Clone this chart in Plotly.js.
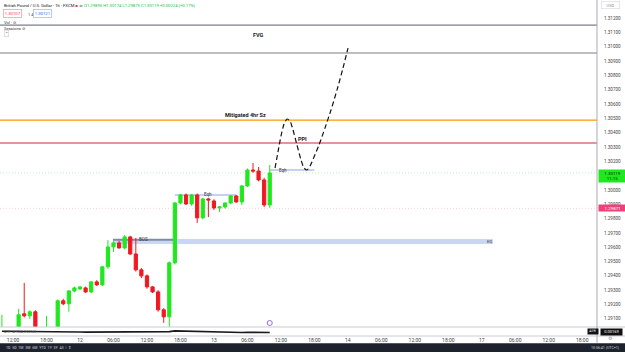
<!DOCTYPE html>
<html><head><meta charset="utf-8">
<script src="https://cdn.plot.ly/plotly-3.0.1.min.js"></script>
<style>html,body{margin:0;padding:0;background:#fff}#chart{width:625px;height:352px}</style>
</head><body><div id="chart"></div>
<script>
// ---- data (bar index = hours since 11th 00:00) ----
const hours  = [10,11,12,13,14,15,16,17,18,19,20,21,22,23,24,25,26,27,28,29,30,31,32,33,34,35,36,37,38,39,40,41,42,43,44,45,46,47,48,49,50,51,52,53,54,55,56,57,58];
const opens  = [1.29020,1.29035,1.28980,1.29010,1.29135,1.29121,1.29149,1.29030,1.28990,1.29020,1.29000,1.29226,1.29205,1.29295,1.29309,1.29316,1.29288,1.29358,1.29337,1.29463,1.29602,1.29630,1.29595,1.29672,1.29553,1.29442,1.29400,1.29323,1.29288,1.29163,1.29114,1.29491,1.29909,1.29965,1.29902,1.29965,1.29805,1.29937,1.29923,1.29874,1.29881,1.29909,1.29958,1.29916,1.30028,1.30139,1.30132,1.30070,1.29895];
const highs  = [1.29128,1.29040,1.29030,1.29170,1.29351,1.29160,1.29160,1.29040,1.29121,1.29035,1.29235,1.29240,1.29300,1.29325,1.29330,1.29325,1.29365,1.29370,1.29470,1.29650,1.29640,1.29645,1.29685,1.29680,1.29665,1.29455,1.29410,1.29330,1.29300,1.29175,1.29500,1.29915,1.29972,1.29975,1.29972,1.29975,1.29945,1.29945,1.29935,1.29885,1.29912,1.29965,1.29965,1.30035,1.30150,1.30188,1.30160,1.30085,1.30174];
const lows   = [1.29000,1.28950,1.28940,1.28990,1.29110,1.29100,1.28990,1.28950,1.28970,1.28960,1.28980,1.29195,1.29149,1.29285,1.29300,1.29280,1.29280,1.29330,1.29330,1.29450,1.29567,1.29590,1.29585,1.29545,1.29430,1.29385,1.29310,1.29280,1.29150,1.29072,1.29040,1.29480,1.29900,1.29895,1.29890,1.29770,1.29795,1.29810,1.29860,1.29845,1.29870,1.29900,1.29910,1.29895,1.30020,1.30120,1.30060,1.29880,1.29875];
const closes = [1.29035,1.28980,1.29010,1.29128,1.29121,1.29149,1.29030,1.28990,1.29020,1.29000,1.29226,1.29205,1.29295,1.29316,1.29323,1.29288,1.29358,1.29337,1.29463,1.29602,1.29630,1.29595,1.29672,1.29553,1.29442,1.29400,1.29323,1.29288,1.29163,1.29114,1.29491,1.29909,1.29965,1.29902,1.29965,1.29805,1.29937,1.29930,1.29874,1.29881,1.29909,1.29958,1.29916,1.30028,1.30139,1.30132,1.30070,1.29895,1.30119];
const atrValues = [0.00176,0.00176,0.00175,0.00175,0.00176,0.00175,0.00175,0.00174,0.00174,0.00173,0.00174,0.00173,0.00173,0.00172,0.00172,0.00171,0.00171,0.00171,0.00171,0.00172,0.00171,0.00171,0.00171,0.00171,0.00171,0.00172,0.00171,0.00171,0.00172,0.00171,0.00174,0.00178,0.00177,0.00176,0.00175,0.00176,0.00175,0.00173,0.00172,0.00171,0.00170,0.00170,0.00169,0.00169,0.00170,0.00169,0.00169,0.00170,0.00169];

const tickHours  = [12,18,24,30,36,42,48,54,60,66,72,78,84,90,96,102,108,114];
const tickLabels = ["12:00","18:00","12","06:00","12:00","18:00","13","06:00","12:00","18:00","14","06:00","12:00","18:00","17","06:00","12:00","18:00"];
const priceTicks = [1.291,1.292,1.293,1.294,1.295,1.296,1.297,1.298,1.299,1.300,1.302,1.303,1.304,1.305,1.306,1.307,1.308,1.309,1.310,1.311,1.312];

const fvgTop = 1.31151, fvgBottom = 1.30956;
const mitigatedLevel = 1.30488;
const ppiLevel = 1.30328;
const lastPrice = 1.30119;
const prevLevel = 1.29871;
const bosBandTop = 1.29658, bosBandBottom = 1.29623, bosBandStart = 29.9, bosBandEnd = 98;
const bosLevel = 1.29652, bosEnd = 41;
const eqh1Level = 1.29965, eqh1Start = 41, eqh1End = 52;
const eqh2Level = 1.30139, eqh2Start = 58, eqh2End = 66;

const pathHours  = [58.95,59.48,60.02,60.56,61.09,61.63,62.17,62.88,63.61,64.14,64.68,65.22,65.94,66.83,67.91,68.98,70.06,71.13,72.03];
const pathPrices = [1.30153,1.30265,1.30377,1.30460,1.30495,1.30481,1.30419,1.30314,1.30209,1.30153,1.30139,1.30167,1.30230,1.30314,1.30433,1.30558,1.30698,1.30851,1.30990];

// ---- plot ----
const GREEN = '#1fe81f', RED = '#f01822';
const traces = [
  {type:'candlestick', x:hours, open:opens, high:highs, low:lows, close:closes,
   increasing:{line:{color:GREEN,width:1}, fillcolor:GREEN},
   decreasing:{line:{color:RED,width:1}, fillcolor:RED},
   whiskerwidth:0, hoverinfo:'skip', xaxis:'x', yaxis:'y'},
  {type:'scatter', mode:'lines', x:pathHours, y:pathPrices, hoverinfo:'skip',
   line:{color:'#111', width:1.2, dash:'5px,3px', shape:'spline', smoothing:0.6}, xaxis:'x', yaxis:'y'},
  {type:'scatter', mode:'markers', x:[58], y:[1.29071], hoverinfo:'skip',
   marker:{symbol:'circle-open', size:5, color:'#9c6ad0', line:{width:1}}, xaxis:'x', yaxis:'y'},
  {type:'scatter', mode:'lines', x:hours, y:atrValues, hoverinfo:'skip',
   line:{color:'#1a1a1a', width:1.6}, xaxis:'x', yaxis:'y2'}
];

function hline(y, color, width, dash){
  return {type:'line', xref:'paper', x0:0, x1:1, yref:'y', y0:y, y1:y, line:{color:color, width:width, dash:dash||'solid'}, layer:'below'};
}
const shapes = [
  hline(fvgTop,'#7c7f88',1.2), hline(fvgBottom,'#7c7f88',1.2),
  hline(mitigatedLevel,'#ff9800',1.3), hline(ppiLevel,'#d2283a',1.1),
  hline(lastPrice,'#a8e8a8',0.7,'1px,2px'), hline(prevLevel,'#f8c0d2',0.7,'1px,2px'),
  {type:'rect', xref:'x', yref:'y', x0:bosBandStart, x1:bosBandEnd, y0:bosBandBottom, y1:bosBandTop, fillcolor:'rgba(190,208,244,0.85)', line:{width:0}, layer:'below'},
  {type:'line', xref:'x', yref:'y', x0:bosBandStart, x1:bosEnd, y0:bosLevel, y1:bosLevel, line:{color:'#7f8aa6', width:2}, layer:'below'},
  {type:'line', xref:'x', yref:'y', x0:eqh1Start, x1:eqh1End, y0:eqh1Level, y1:eqh1Level, line:{color:'#b3c2ea', width:1.6}, layer:'below'},
  {type:'line', xref:'x', yref:'y', x0:eqh2Start, x1:eqh2End, y0:eqh2Level, y1:eqh2Level, line:{color:'#b3c2ea', width:1.6}, layer:'below'},
  // pane separators
  {type:'line', xref:'paper', x0:0, x1:1.05, yref:'paper', y0:0.0268, y1:0.0268, line:{color:'#c9ccd3', width:1}},
  {type:'line', xref:'paper', x0:0, x1:1.05, yref:'paper', y0:0, y1:0, line:{color:'#c9ccd3', width:1}},
  {type:'line', xref:'paper', x0:1, x1:1, yref:'paper', y0:-0.02, y1:1, line:{color:'#a8abb3', width:1}},
  // bottom toolbar
  {type:'rect', xref:'paper', x0:-0.01, x1:1.06, yref:'paper', y0:-0.05, y1:-0.0215, fillcolor:'#1e222d', line:{width:0}}
];

const F = 'Roboto, "Liberation Sans", sans-serif';
function txt(x,y,text,opts){
  return Object.assign({x:x, y:y, xref:'x', yref:'y', text:text, showarrow:false, font:{family:F, size:5, color:'#131722'}}, opts||{});
}
const annotations = [
  txt(55.9, 1.31081, '<b>FVG</b>', {font:{family:F,size:5.5,color:'#131722'}}),
  txt(53.6, 1.30523, '<b>Mitigated 4hr Sz</b>', {font:{family:F,size:5.5,color:'#131722'}}),
  txt(63.9, 1.30356, '<b>PPI</b>', {font:{family:F,size:5.5,color:'#131722'}}),
  txt(35.3, 1.29652, 'BOS', {font:{family:F,size:4.5,color:'#333'}}),
  txt(46.9, 1.29965, 'Eqh', {font:{family:F,size:4.5,color:'#333'}}),
  txt(60.3, 1.30139, 'Eqh', {font:{family:F,size:4.5,color:'#333'}}),
  txt(97.4, 1.29641, 'EQ', {font:{family:F,size:4,color:'#333'}}),
  // header
  {xref:'paper', yref:'paper', x:0.003, y:0.998, xanchor:'left', yanchor:'top', showarrow:false,
   text:'British Pound / U.S. Dollar · 1h · FXCM <span style="color:#f23645">■</span> <span style="color:#7a8a7a">◂▸</span> <span style="color:#22c03a">O1.29895 H1.30174 L1.29875 C1.30119 +0.00224 (+0.17%)</span>',
   font:{family:F,size:4.2,color:'#131722'}},
  {xref:'paper', yref:'paper', x:0.005, y:0.972, xanchor:'left', yanchor:'top', showarrow:false,
   text:'1.30107', bordercolor:'#f4a2aa', borderwidth:0.8, borderpad:1, font:{family:F,size:4.2,color:'#f23645'}},
  {xref:'paper', yref:'paper', x:0.043, y:0.970, xanchor:'left', yanchor:'top', showarrow:false,
   text:'1.4', font:{family:F,size:4,color:'#444'}},
  {xref:'paper', yref:'paper', x:0.056, y:0.972, xanchor:'left', yanchor:'top', showarrow:false,
   text:'1.30121', bordercolor:'#a7bff2', borderwidth:0.8, borderpad:1, font:{family:F,size:4.2,color:'#2962ff'}},
  {xref:'paper', yref:'paper', x:0.004, y:0.945, xanchor:'left', yanchor:'top', showarrow:false,
   text:'Vol · ⊘', font:{family:F,size:4.2,color:'#444'}},
  {xref:'paper', yref:'paper', x:0.004, y:0.928, xanchor:'left', yanchor:'top', showarrow:false,
   text:'Sessions ⊘', font:{family:F,size:4.2,color:'#444'}},
  {xref:'paper', yref:'paper', x:0.006, y:0.910, xanchor:'left', yanchor:'top', showarrow:false,
   text:'⌃', bordercolor:'#ccc', borderwidth:0.6, borderpad:0.5, font:{family:F,size:4,color:'#444'}},
  // right axis labels
  {xref:'paper', yref:'paper', x:1.023, y:0.996, xanchor:'center', yanchor:'top', showarrow:false,
   text:'USD', bgcolor:'#fff', bordercolor:'#d6d8de', borderwidth:0.6, borderpad:1, width:16, font:{family:F,size:4,color:'#888'}},
  {xref:'paper', yref:'y', x:1.001, y:lastPrice, xanchor:'left', yanchor:'top', yshift:4, showarrow:false,
   text:'1.30119<br>11:15', align:'center', bgcolor:GREEN, width:26, borderpad:0.6, font:{family:F,size:4.4,color:'#0d260d'}},
  {xref:'paper', yref:'y', x:1.001, y:prevLevel, xanchor:'left', yanchor:'middle', showarrow:false,
   text:'1.29871', bgcolor:'#f0407a', width:26, borderpad:0.6, font:{family:F,size:4.4,color:'#fff'}},
  {xref:'paper', yref:'paper', x:0.993, y:0.0125, xanchor:'center', yanchor:'middle', showarrow:false,
   text:'ATR', bgcolor:'#111', width:9, borderpad:0.4, font:{family:F,size:3.6,color:'#fff'}},
  {xref:'paper', yref:'paper', x:1.024, y:0.0125, xanchor:'center', yanchor:'middle', showarrow:false,
   text:'0.00169', bgcolor:'#111', width:20, borderpad:0.4, font:{family:F,size:4,color:'#fff'}},
  {xref:'paper', yref:'paper', x:0.004, y:0.013, xanchor:'left', yanchor:'middle', showarrow:false,
   text:'ATR 14 RMA 0.00169', font:{family:F,size:3.4,color:'#555'}},
  {xref:'paper', yref:'paper', x:1.022, y:-0.007, xanchor:'center', yanchor:'middle', showarrow:false,
   text:'⚙', font:{family:F,size:5,color:'#999'}},
  // bottom toolbar texts
  {xref:'paper', yref:'paper', x:0.006, y:-0.035, xanchor:'left', yanchor:'middle', showarrow:false,
   text:'1D  5D  1M  3M  6M  YTD  1Y  5Y  All  |  ⇕', font:{family:F,size:3.6,color:'#d1d4dc'}},
  {xref:'paper', yref:'paper', x:1.04, y:-0.035, xanchor:'right', yanchor:'middle', showarrow:false,
   text:'10:56:41 (UTC+1)', font:{family:F,size:3.6,color:'#d1d4dc'}}
];

const layout = {
  width:625, height:352, margin:{l:0, r:28, t:0, b:16},
  paper_bgcolor:'#fff', plot_bgcolor:'#fff', showlegend:false, boxgap:0.18,
  xaxis:{range:[9.66,116.65], tickvals:tickHours, ticktext:tickLabels, tickfont:{family:F,size:5,color:'#444'},
         showgrid:false, zeroline:false, showline:false, ticks:'', anchor:'y2', rangeslider:{visible:false}, fixedrange:true},
  yaxis:{domain:[0.0268,1], range:[1.29043,1.31326], side:'right', tickvals:priceTicks, tickformat:'.5f',
         tickfont:{family:F,size:4.6,color:'#444'}, showgrid:false, zeroline:false, showline:false, ticks:'', ticklabelstandoff:6},
  yaxis2:{domain:[0,0.0245], range:[0.00150,0.00195], showticklabels:false, showgrid:false, zeroline:false, ticks:''},
  shapes:shapes, annotations:annotations
};
Plotly.newPlot('chart', traces, layout, {staticPlot:true, displayModeBar:false});
</script></body></html>
